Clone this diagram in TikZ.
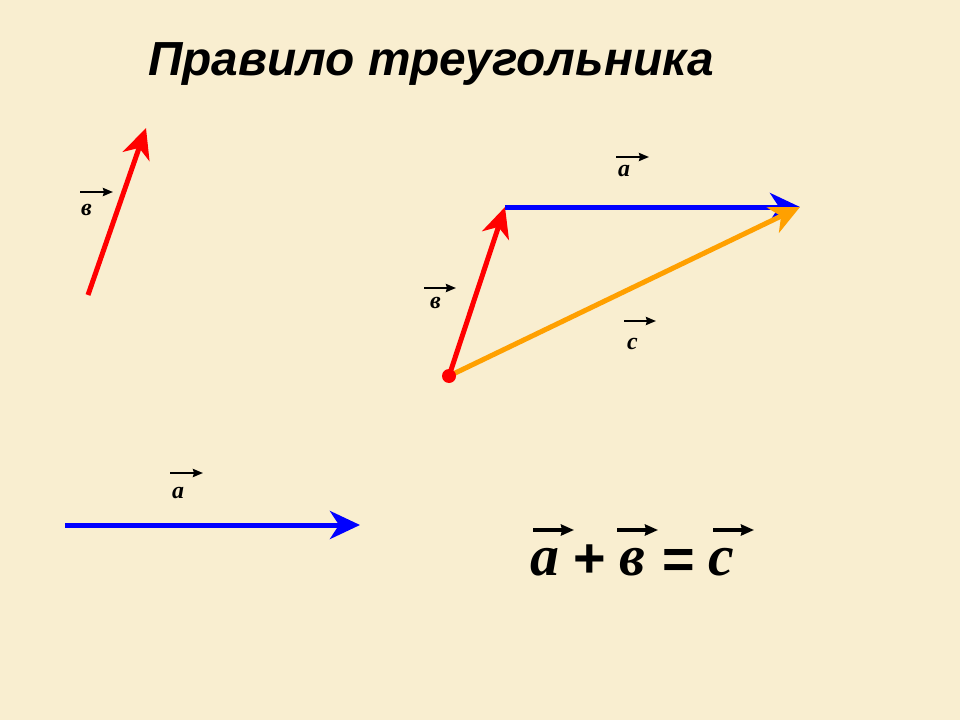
\documentclass[tikz,border=0pt]{standalone}
\usepackage{fontspec}
\setmainfont{Liberation Serif}
\newfontfamily\titlefont{Liberation Sans}
\usetikzlibrary{arrows.meta,positioning}
\definecolor{paper}{RGB}{249,238,208}
\definecolor{vecorange}{RGB}{255,160,0}
\tikzset{
	vec/.style      = {line width=5bp, -{Stealth[length=30bp,width=28bp,inset=9bp]}},
	veclabel/.style = {font=\fontsize{24}{24}\selectfont\bfseries\itshape, inner sep=0pt},
	overarrow/.style= {line width=2.6bp, -{Stealth[length=10bp,width=8bp,inset=1bp]}},
	bigarrow/.style = {line width=3.2bp, -{Stealth[length=13bp,width=11bp,inset=1bp]}},
	formula/.style  = {font=\fontsize{58}{58}\selectfont\bfseries\itshape, inner sep=0pt, anchor=base},
	sign/.style     = {font=\titlefont\fontsize{56}{56}\selectfont\bfseries, inner sep=0pt, anchor=base}
}
\begin{document}
\begin{tikzpicture}[x=1bp,y=-1bp]
	\fill[paper] (0,0) rectangle (960,720);
	\useasboundingbox (0,0) rectangle (960,720);

	% title
	\node (title) [anchor=base west, inner sep=0pt,
		font=\titlefont\fontsize{48}{48}\selectfont\bfseries\itshape]
		at (148,76) {Правило треугольника};

	% vector b alone
	\coordinate (b0) at (88,295);
	\coordinate (b1) at (146,128);
	\draw[vec, red] (b0) -- (b1);
	\node (lb) [veclabel, anchor=base west] at (81,215) {в};
	\coordinate (lbs) at (80,192);
	\draw[overarrow] (lbs) -- ++(33,0);

	% vector a alone
	\coordinate (a0) at (65,525);
	\coordinate (a1) at (360,525);
	\draw[vec, blue] (a0) -- (a1);
	\node (la) [veclabel, anchor=base west] at (172,498) {а};
	\coordinate (las) at (170,473);
	\draw[overarrow] (las) -- ++(33,0);

	% triangle
	\coordinate (O) at (449,376);
	\coordinate (B) at (505,207);
	\coordinate (C) at (800,207);
	\draw[vec, red] (O) -- (B);
	\draw[vec, blue] (B) -- (C);
	\draw[vec, vecorange] (O) -- (C);
	\fill[red] (O) circle (7);

	\node (ta) [veclabel, anchor=base west] at (618,177) {а};
	\coordinate (tas) at (616,157);
	\draw[overarrow] (tas) -- ++(33,0);
	\node (tb) [veclabel, anchor=base west] at (430,308) {в};
	\coordinate (tbs) at (424,288);
	\draw[overarrow] (tbs) -- ++(32,0);
	\node (tc) [veclabel, anchor=base west] at (627,349) {с};
	\coordinate (tcs) at (624,321);
	\draw[overarrow] (tcs) -- ++(32,0);

	% a + b = c
	\node (fa)    [formula] at (545,575) {а};
	\node (fplus) [sign]    at (590,577) {+};
	\node (fb)    [formula] at (632,575) {в};
	\node (feq)   [sign]    at (679,578) {=};
	\node (fc)    [formula] at (721,575) {с};
	\draw[bigarrow] ([shift={(-12,-45)}]fa.base) -- ++(41,0);
	\draw[bigarrow] ([shift={(-15,-45)}]fb.base) -- ++(41,0);
	\draw[bigarrow] ([shift={(-8,-45)}]fc.base) -- ++(41,0);
\end{tikzpicture}
\end{document}
